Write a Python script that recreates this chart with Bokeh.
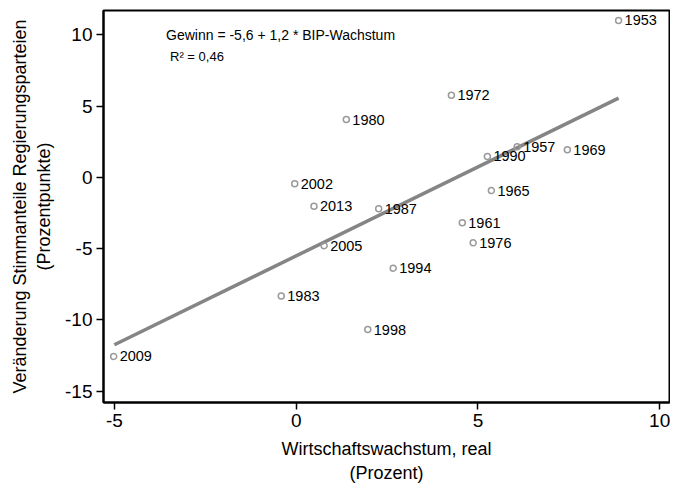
from bokeh.plotting import figure
from bokeh.models import ColumnDataSource, FixedTicker, Label, LabelSet, Range1d
from bokeh.core.properties import value
from bokeh.embed import file_html
from bokeh.resources import INLINE

# Data
years = ["1953", "1957", "1961", "1965", "1969", "1972", "1976", "1980", "1983",
         "1987", "1990", "1994", "1998", "2002", "2005", "2009", "2013"]
growth = [8.87, 6.08, 4.57, 5.37, 7.46, 4.27, 4.87, 1.38, -0.41,
          2.27, 5.26, 2.67, 1.97, -0.04, 0.77, -5.02, 0.49]
change = [11.0, 2.14, -3.19, -0.93, 1.93, 5.76, -4.6, 4.05, -8.33,
          -2.21, 1.46, -6.38, -10.68, -0.45, -4.8, -12.57, -2.03]

fit_x = [-5.0, 8.87]
fit_y = [-11.75, 5.55]

x_ticks = [-5, 0, 5, 10]
y_ticks = [-15, -10, -5, 0, 5, 10]

FONT = "Liberation Sans"

p = figure(width=670, height=485, output_backend="svg", toolbar_location=None,
           x_range=Range1d(-5.3, 10.27), y_range=Range1d(-15.8, 11.7),
           min_border_left=103, min_border_right=1, min_border_top=10, min_border_bottom=82)
p.background_fill_color = "white"
p.border_fill_color = "white"
p.outline_line_color = "black"
p.outline_line_width = 2
p.xgrid.visible = False
p.ygrid.visible = False

src = ColumnDataSource(dict(x=growth, y=change, year=years))

p.line(fit_x, fit_y, line_color="#858585", line_width=3.5)
p.scatter("x", "y", source=src, marker="circle", size=6, fill_color=None,
          line_color="#9a9a9a", line_width=1.5)

labels = LabelSet(x="x", y="y", text="year", source=src, x_offset=6, y_offset=0,
                  text_baseline="middle", text_align="left", text_font=value(FONT),
                  text_font_size=value("14.5px"), text_color=value("black"))
p.add_layout(labels)

p.add_layout(Label(x=-3.58, y=10.0, text="Gewinn = -5,6 + 1,2 * BIP-Wachstum",
                   text_font=FONT, text_font_size="14px", text_baseline="middle",
                   text_color="black"))
p.add_layout(Label(x=-3.47, y=8.47, text="R\u00b2 = 0,46",
                   text_font=FONT, text_font_size="13px", text_baseline="middle",
                   text_color="black"))

for ax in (p.xaxis[0], p.yaxis[0]):
    ax.axis_line_color = "black"
    ax.axis_line_width = 2
    ax.major_tick_line_color = "black"
    ax.major_tick_line_width = 1.5
    ax.major_tick_out = 7
    ax.major_tick_in = 0
    ax.minor_tick_line_color = None
    ax.major_label_text_font = FONT
    ax.major_label_text_font_size = "19px"
    ax.major_label_text_color = "black"
    ax.axis_label_text_font = FONT
    ax.axis_label_text_font_size = "18px"
    ax.axis_label_text_font_style = "normal"
    ax.axis_label_text_color = "black"

p.xaxis[0].ticker = FixedTicker(ticks=x_ticks)
p.yaxis[0].ticker = FixedTicker(ticks=y_ticks)
p.xaxis[0].major_label_overrides = {t: str(t) for t in x_ticks}
p.yaxis[0].major_label_overrides = {t: str(t) for t in y_ticks}
p.xaxis[0].axis_label = "Wirtschaftswachstum, real\n(Prozent)"
p.yaxis[0].axis_label = "Veränderung Stimmanteile Regierungsparteien\n(Prozentpunkte)"
p.xaxis[0].axis_label_standoff = 9
p.yaxis[0].axis_label_standoff = 8
p.xaxis[0].major_label_standoff = 4
p.yaxis[0].major_label_standoff = 4

open("out.html", "w").write(file_html(p, INLINE))
